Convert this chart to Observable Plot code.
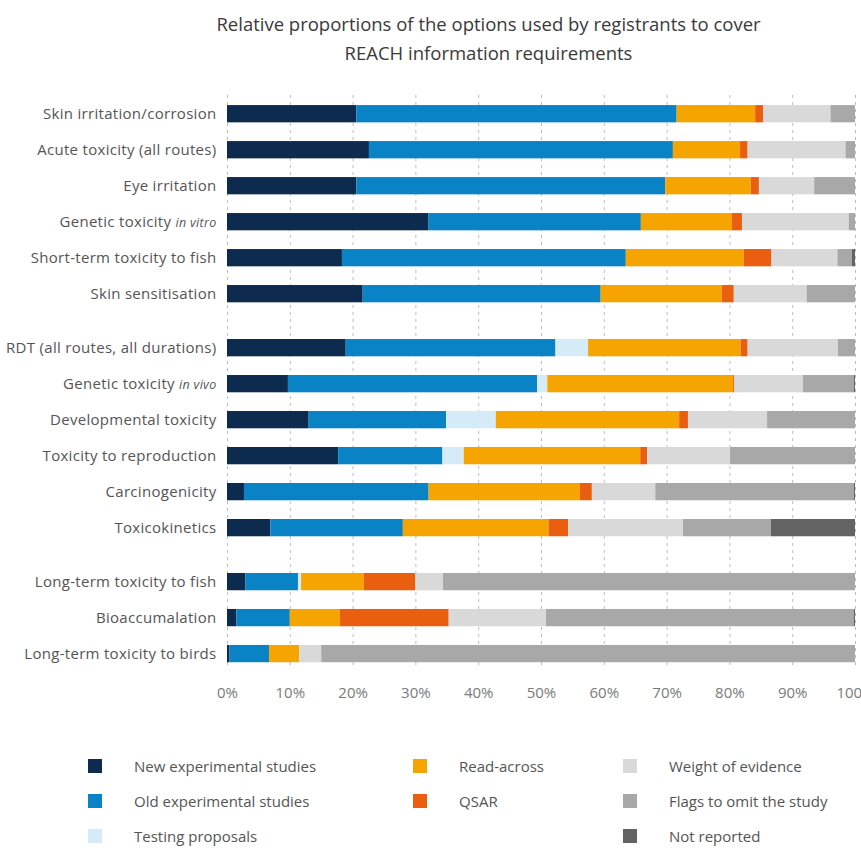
<!DOCTYPE html>
<html>
<head>
<meta charset="utf-8">
<script src="https://cdn.jsdelivr.net/npm/d3@7"></script>
<script src="https://cdn.jsdelivr.net/npm/@observablehq/plot@0.6"></script>
<style>
  html, body { margin: 0; padding: 0; background: #fff; }
  body { width: 861px; height: 848px; overflow: hidden; font-family: "Open Sans", sans-serif; }
  #title { padding-top: 9px; padding-left: 116px; text-align: center; font-size: 18.5px; line-height: 29px; color: #3a3a3a; height: 71px; }
  #chart { height: 628px; }
  #legend { margin-top: 40px; padding-left: 88px; display: grid; grid-auto-flow: column;
    grid-template-rows: repeat(3, 35px); grid-template-columns: 325px 210px 240px; }
  .item { display: flex; align-items: center; font-size: 15px; color: #555; }
  .sw { width: 14px; height: 14px; margin-right: 32px; flex: none; }
  #chart svg g[aria-label="y-axis tick label"] text { letter-spacing: 0.3px; }
</style>
</head>
<body>
<div id="title">Relative proportions of the options used by registrants to cover<br>REACH information requirements</div>
<div id="chart"></div>
<div id="legend"></div>
<script>
const categories = [
  "Skin irritation/corrosion", "Acute toxicity (all routes)", "Eye irritation",
  "Genetic toxicity in vitro", "Short-term toxicity to fish", "Skin sensitisation",
  "RDT (all routes, all durations)", "Genetic toxicity in vivo", "Developmental toxicity",
  "Toxicity to reproduction", "Carcinogenicity", "Toxicokinetics",
  "Long-term toxicity to fish", "Bioaccumalation", "Long-term toxicity to birds"
];
const groups = [0,0,0,0,0,0, 1,1,1,1,1,1, 2,2,2];

const seriesNames = ["New experimental studies", "Old experimental studies", "Testing proposals",
  "Read-across", "QSAR", "Weight of evidence", "Flags to omit the study", "Not reported"];
const seriesColors = ["#0d2a4f", "#0a82c6", "#d6ebf8", "#f6a400", "#e95e0f", "#d9d9d9", "#a8a8a8", "#636363"];

const newExperimental = [20.6, 22.6, 20.6, 32.1, 18.3, 21.6, 18.9, 9.7, 13.0, 17.7, 2.7, 6.9, 2.9, 1.5, 0.4];
const oldExperimental = [51.0, 48.4, 49.2, 33.8, 45.2, 37.9, 33.4, 39.7, 21.9, 16.6, 29.4, 21.1, 8.4, 8.5, 6.3];
const testingProposals = [0, 0, 0, 0, 0, 0, 5.2, 1.6, 7.9, 3.4, 0, 0, 0.5, 0, 0];
const readAcross = [12.5, 10.7, 13.6, 14.5, 18.8, 19.3, 24.3, 29.6, 29.2, 28.1, 24.1, 23.2, 10.0, 8.0, 4.8];
const qsar = [1.3, 1.2, 1.3, 1.6, 4.4, 1.9, 1.1, 0.2, 1.4, 1.1, 1.9, 3.1, 8.2, 17.3, 0];
const weightOfEvidence = [10.7, 15.6, 8.8, 17.0, 10.5, 11.6, 14.4, 10.9, 12.6, 13.2, 10.1, 18.3, 4.4, 15.5, 3.5];
const flagsToOmit = [3.9, 1.5, 6.5, 1.0, 2.3, 7.7, 2.7, 8.1, 14.0, 19.9, 31.6, 14.0, 65.6, 49.0, 85.0];
const notReported = [0, 0, 0, 0, 0.5, 0, 0, 0.2, 0, 0, 0.2, 13.4, 0, 0.2, 0];

const xTicks = [0, 10, 20, 30, 40, 50, 60, 70, 80, 90, 100];

const seriesValues = [newExperimental, oldExperimental, testingProposals, readAcross, qsar,
  weightOfEvidence, flagsToOmit, notReported];

// row position: index plus half a row between groups
const groupGap = 0.5;
const positions = categories.map((c, i) => i + groups[i] * groupGap);
const half = 0.24;

const rows = [];
categories.forEach((cat, i) => {
  let acc = 0;
  seriesValues.forEach((vals, s) => {
    const v = vals[i];
    if (v > 0) rows.push({category: cat, series: seriesNames[s], x1: acc, x2: acc + v, pos: positions[i]});
    acc += v;
  });
});

const labelOf = new Map(positions.map((p, i) => [p, categories[i]]));

const chart = Plot.plot({
  width: 861,
  height: 628,
  marginTop: 15,
  marginBottom: 40,
  marginLeft: 227,
  marginRight: 6,
  style: {fontFamily: "Open Sans, sans-serif", background: "#fff", overflow: "visible"},
  x: {domain: [0, 100]},
  y: {domain: [-0.52, 15.4], reverse: true},
  color: {domain: seriesNames, range: seriesColors},
  marks: [
    Plot.ruleX(xTicks, {stroke: "#bdbdbd", strokeDasharray: "3,4", strokeWidth: 1}),
    Plot.rectX(rows, {
      x1: "x1", x2: "x2",
      y1: d => d.pos - half, y2: d => d.pos + half,
      fill: "series"
    }),
    Plot.axisX(xTicks, {tickSize: 0, tickPadding: 19, tickFormat: d => d + "%", fontSize: 15, fill: "#7a7a7a", label: null}),
    Plot.axisY(positions, {tickSize: 0, tickPadding: 11, tickFormat: d => labelOf.get(d), fontSize: 15, fill: "#555", label: null})
  ]
});
document.getElementById("chart").appendChild(chart);

// italicise the Latin terms in the tick labels
chart.querySelectorAll("text").forEach(t => {
  const s = t.textContent;
  const m = s.match(/^(.*?)(in vitro|in vivo)$/);
  if (m) {
    t.textContent = m[1];
    const ts = document.createElementNS("http://www.w3.org/2000/svg", "tspan");
    ts.setAttribute("font-style", "italic");
    ts.setAttribute("font-size", "12.5");
    ts.textContent = m[2];
    t.appendChild(ts);
  }
});

// legend (column-major, 3 rows)
const legendOrder = [0, 1, 2, 3, 4, null, 5, 6, 7];
const legend = document.getElementById("legend");
legendOrder.forEach(k => {
  const div = document.createElement("div");
  div.className = "item";
  if (k !== null) {
    const sw = document.createElement("span");
    sw.className = "sw";
    sw.style.background = seriesColors[k];
    const tx = document.createElement("span");
    tx.textContent = seriesNames[k];
    div.appendChild(sw);
    div.appendChild(tx);
  }
  legend.appendChild(div);
});
</script>
</body>
</html>
